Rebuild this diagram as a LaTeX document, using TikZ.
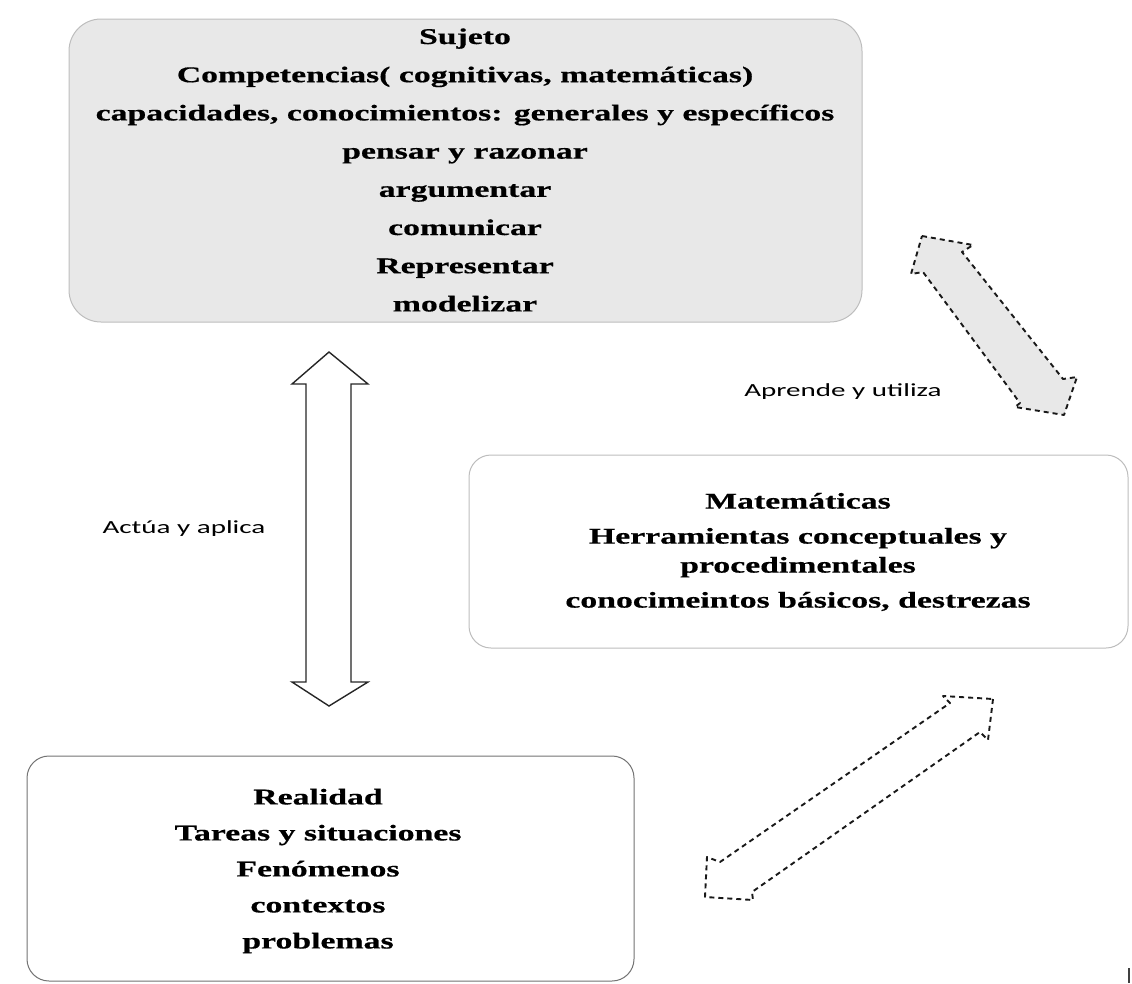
\documentclass[tikz,border=0pt]{standalone}
\usepackage{fontspec}
\newfontfamily\boxfont[FakeStretch=1.5, BoldFeatures={FakeBold=0.6}]{Liberation Serif}
\newfontfamily\lblfont[FakeStretch=1.57]{Carlito}
\definecolor{boxgray}{HTML}{E8E8E8}
\definecolor{edgegray}{HTML}{BDBDBD}
\begin{document}
\begin{tikzpicture}[x=1pt,y=-1pt,
  boxtext/.style={font=\boxfont\bfseries\fontsize{22.5}{38.2}\selectfont, align=center, inner sep=0pt},
  dasharrow/.style={draw=black!90, line width=1.9pt, dash pattern=on 5pt off 4pt, line join=round},
  solidarrow/.style={draw=black!85, line width=1.4pt, fill=white, line join=miter},
  lbl/.style={font=\lblfont\fontsize{18.5}{22}\selectfont, inner sep=0pt}]
\useasboundingbox (0,0) rectangle (1132,983);

% boxes
\draw[draw=edgegray, fill=boxgray, line width=1pt, rounded corners=32pt] (69,19) rectangle (862,322);
\node[boxtext] (sujeto) at (465,170) {Sujeto\\Competencias( cognitivas, matemáticas)\\capacidades, conocimientos: generales y específicos\\pensar y razonar\\argumentar\\comunicar\\Representar\\modelizar};

\draw[draw=edgegray, fill=white, line width=1pt, rounded corners=22pt] (469,455) rectangle (1128,648);
\node[boxtext, font=\boxfont\bfseries\fontsize{22.5}{29}\selectfont] (mate) at (798,552) {Matemáticas\\[6pt]Herramientas conceptuales y\\procedimentales\\[6pt]conocimeintos básicos, destrezas};

\draw[draw=black!55, fill=white, line width=1pt, rounded corners=22pt] (27,756) rectangle (634,981);
\node[boxtext, font=\boxfont\bfseries\fontsize{22.5}{36}\selectfont] (real) at (318,871) {Realidad\\Tareas y situaciones\\Fenómenos\\contextos\\problemas};

% vertical double arrow (Sujeto <-> Realidad)
\path[solidarrow] (329,352) -- (368,384) -- (351,384) -- (351,682) -- (368,682) -- (329,706)
  -- (292,682) -- (306,682) -- (306,384) -- (292,384) -- cycle;

% top-right diagonal double arrow (Sujeto <-> Matematicas), gray
\path[dasharrow, fill=boxgray] (922,236) -- (973,245) -- (962,252) -- (1063,379) -- (1077,377)
  -- (1064,415) -- (1015,407) -- (1020,403) -- (923,272) -- (911,274) -- cycle;

% bottom-right diagonal double arrow (Matematicas <-> Realidad), white
\path[dasharrow, fill=white] (993,699) -- (988,740) -- (980,732) -- (752,892) -- (753,900)
  -- (705,897) -- (707,857) -- (720,862) -- (950,703) -- (943,696) -- cycle;

% labels
\node[lbl] (aprende) at (843,392) {Aprende y utiliza};
\node[lbl] (actua) at (184,529) {Actúa y aplica};

% small mark bottom right
\draw[black!75, line width=1.5pt] (1129,968) -- (1129,983);
\end{tikzpicture}
\end{document}
